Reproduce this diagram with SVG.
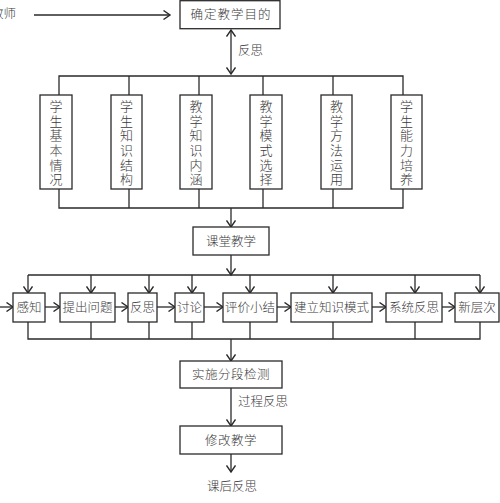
<svg xmlns="http://www.w3.org/2000/svg" width="500" height="503" viewBox="0 0 500 503">
<style>
.box{fill:#fff;stroke:#2a2a2a;stroke-width:1.3}
.t{font-family:"Noto Sans CJK SC","Noto Sans CJK JP",sans-serif;font-size:12.5px;fill:#3a3a3a;text-anchor:middle;font-weight:300}
.v{font-family:"Noto Sans CJK SC","Noto Sans CJK JP",sans-serif;font-size:13px;fill:#3a3a3a;text-anchor:middle;font-weight:300}
.ln{fill:none;stroke:#2a2a2a;stroke-width:1.3}
</style>
<defs>
<marker id="a" markerWidth="10" markerHeight="10" refX="8" refY="5" orient="auto-start-reverse" markerUnits="userSpaceOnUse">
<path d="M1.5,0.5 L8,5 L1.5,9.5" fill="none" stroke="#2a2a2a" stroke-width="1.4"/>
</marker>
</defs>
<rect width="500" height="503" fill="#fff"/>

<g id="connectors">
<line class="ln" x1="34" y1="15" x2="170" y2="15" marker-end="url(#a)"/>
<line class="ln" x1="231" y1="30" x2="231" y2="74" marker-start="url(#a)" marker-end="url(#a)"/>
<polyline class="ln" points="59,95 59,76 403,76 403,95"/>
<line class="ln" x1="129" y1="76" x2="129" y2="95"/>
<line class="ln" x1="199" y1="76" x2="199" y2="95"/>
<line class="ln" x1="263" y1="76" x2="263" y2="95"/>
<line class="ln" x1="333" y1="76" x2="333" y2="95"/>
<polyline class="ln" points="59,189 59,208 403,208 403,189"/>
<line class="ln" x1="129" y1="189" x2="129" y2="208"/>
<line class="ln" x1="199" y1="189" x2="199" y2="208"/>
<line class="ln" x1="263" y1="189" x2="263" y2="208"/>
<line class="ln" x1="333" y1="189" x2="333" y2="208"/>
<line class="ln" x1="231" y1="208" x2="231" y2="227" marker-end="url(#a)"/>
<line class="ln" x1="231" y1="255" x2="231" y2="275" marker-end="url(#a)"/>
<line class="ln" x1="28" y1="275" x2="480" y2="275"/>
<line class="ln" x1="28" y1="275" x2="28" y2="293" marker-end="url(#a)"/>
<line class="ln" x1="91" y1="275" x2="91" y2="293" marker-end="url(#a)"/>
<line class="ln" x1="149" y1="275" x2="149" y2="293" marker-end="url(#a)"/>
<line class="ln" x1="192" y1="275" x2="192" y2="293" marker-end="url(#a)"/>
<line class="ln" x1="250" y1="275" x2="250" y2="293" marker-end="url(#a)"/>
<line class="ln" x1="333" y1="275" x2="333" y2="293" marker-end="url(#a)"/>
<line class="ln" x1="415" y1="275" x2="415" y2="293" marker-end="url(#a)"/>
<line class="ln" x1="480" y1="275" x2="480" y2="293" marker-end="url(#a)"/>
<line class="ln" x1="0" y1="307" x2="13" y2="307" marker-end="url(#a)"/>
<line class="ln" x1="45" y1="307" x2="60" y2="307" marker-end="url(#a)"/>
<line class="ln" x1="115" y1="307" x2="128" y2="307" marker-end="url(#a)"/>
<line class="ln" x1="157" y1="307" x2="175" y2="307" marker-end="url(#a)"/>
<line class="ln" x1="204" y1="307" x2="223" y2="307" marker-end="url(#a)"/>
<line class="ln" x1="277" y1="307" x2="291" y2="307" marker-end="url(#a)"/>
<line class="ln" x1="372" y1="307" x2="386" y2="307" marker-end="url(#a)"/>
<line class="ln" x1="442" y1="307" x2="455" y2="307" marker-end="url(#a)"/>
<polyline class="ln" points="28,322 28,339 480,339 480,322"/>
<line class="ln" x1="91" y1="322" x2="91" y2="339"/>
<line class="ln" x1="149" y1="322" x2="149" y2="339"/>
<line class="ln" x1="192" y1="322" x2="192" y2="339"/>
<line class="ln" x1="250" y1="322" x2="250" y2="339"/>
<line class="ln" x1="333" y1="322" x2="333" y2="339"/>
<line class="ln" x1="415" y1="322" x2="415" y2="339"/>
<line class="ln" x1="231" y1="339" x2="231" y2="361" marker-end="url(#a)"/>
<line class="ln" x1="231" y1="388" x2="231" y2="426" marker-end="url(#a)"/>
<line class="ln" x1="231" y1="454" x2="231" y2="472" marker-end="url(#a)"/>
</g>

<g id="labels">
<text class="t" x="16" y="18" style="text-anchor:end">教师</text>
<text class="t" x="238" y="55" style="text-anchor:start">反思</text>
<text class="t" x="238" y="406" style="text-anchor:start">过程反思</text>
<text class="t" x="232" y="491">课后反思</text>
</g>

<g id="n-goal"><rect class="box" x="180" y="0.7" width="100" height="28"/><text class="t" x="231" y="19" letter-spacing="1">确定教学目的</text></g>

<g id="c1"><rect class="box" x="40" y="95" width="32" height="94"/><text class="v"><tspan x="56" y="111">学</tspan><tspan x="56" y="126">生</tspan><tspan x="56" y="140">基</tspan><tspan x="56" y="155">本</tspan><tspan x="56" y="170">情</tspan><tspan x="56" y="184">况</tspan></text></g>
<g id="c2"><rect class="box" x="111" y="95" width="31" height="94"/><text class="v"><tspan x="126.5" y="111">学</tspan><tspan x="126.5" y="126">生</tspan><tspan x="126.5" y="140">知</tspan><tspan x="126.5" y="155">识</tspan><tspan x="126.5" y="170">结</tspan><tspan x="126.5" y="184">构</tspan></text></g>
<g id="c3"><rect class="box" x="180" y="95" width="32" height="94"/><text class="v"><tspan x="196" y="111">教</tspan><tspan x="196" y="126">学</tspan><tspan x="196" y="140">知</tspan><tspan x="196" y="155">识</tspan><tspan x="196" y="170">内</tspan><tspan x="196" y="184">涵</tspan></text></g>
<g id="c4"><rect class="box" x="250" y="95" width="32" height="94"/><text class="v"><tspan x="266" y="111">教</tspan><tspan x="266" y="126">学</tspan><tspan x="266" y="140">模</tspan><tspan x="266" y="155">式</tspan><tspan x="266" y="170">选</tspan><tspan x="266" y="184">择</tspan></text></g>
<g id="c5"><rect class="box" x="321" y="95" width="31" height="94"/><text class="v"><tspan x="336.5" y="111">教</tspan><tspan x="336.5" y="126">学</tspan><tspan x="336.5" y="140">方</tspan><tspan x="336.5" y="155">法</tspan><tspan x="336.5" y="170">运</tspan><tspan x="336.5" y="184">用</tspan></text></g>
<g id="c6"><rect class="box" x="391" y="95" width="31" height="94"/><text class="v"><tspan x="406.5" y="111">学</tspan><tspan x="406.5" y="126">生</tspan><tspan x="406.5" y="140">能</tspan><tspan x="406.5" y="155">力</tspan><tspan x="406.5" y="170">培</tspan><tspan x="406.5" y="184">养</tspan></text></g>

<g id="n-class"><rect class="box" x="193" y="227" width="76" height="28"/><text class="t" x="231" y="245.5">课堂教学</text></g>

<g id="r1"><rect class="box" x="13" y="293" width="32" height="29"/><text class="t" x="29" y="311.5">感知</text></g>
<g id="r2"><rect class="box" x="60" y="293" width="55" height="29"/><text class="t" x="87.5" y="311.5">提出问题</text></g>
<g id="r3"><rect class="box" x="128" y="293" width="29" height="29"/><text class="t" x="142.5" y="311.5">反思</text></g>
<g id="r4"><rect class="box" x="175" y="293" width="29" height="29"/><text class="t" x="189.5" y="311.5">讨论</text></g>
<g id="r5"><rect class="box" x="223" y="293" width="54" height="29"/><text class="t" x="250" y="311.5">评价小结</text></g>
<g id="r6"><rect class="box" x="291" y="293" width="81" height="29"/><text class="t" x="331.5" y="311.5">建立知识模式</text></g>
<g id="r7"><rect class="box" x="386" y="293" width="56" height="29"/><text class="t" x="414" y="311.5">系统反思</text></g>
<g id="r8"><rect class="box" x="455" y="293" width="44" height="29"/><text class="t" x="477" y="311.5">新层次</text></g>

<g id="n-test"><rect class="box" x="180" y="361" width="102" height="27"/><text class="t" x="231" y="379" letter-spacing="0.5">实施分段检测</text></g>
<g id="n-revise"><rect class="box" x="180" y="426" width="102" height="28"/><text class="t" x="231" y="444.5" letter-spacing="0.5">修改教学</text></g>
</svg>
